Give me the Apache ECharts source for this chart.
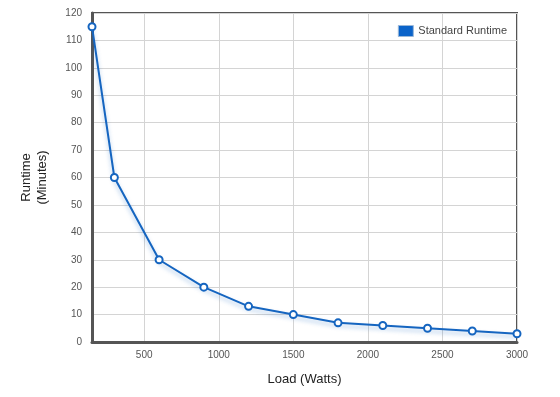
<!DOCTYPE html>
<html>
<head>
<meta charset="utf-8">
<script src="https://cdn.jsdelivr.net/npm/echarts@6/dist/echarts.min.js"></script>
<style>
  html, body { margin: 0; padding: 0; background: #fff; }
  #chart { width: 560px; height: 397px; }
</style>
</head>
<body>
<div id="chart"></div>
<script>
// load in watts, runtime in minutes
const loads = [150, 300, 600, 900, 1200, 1500, 1800, 2100, 2400, 2700, 3000];
const runtimes = [115, 60, 30, 20, 13, 10, 7, 6, 5, 4, 3];
const xTicks = [500, 1000, 1500, 2000, 2500, 3000];
const seriesName = "Standard Runtime";

const myChart = echarts.init(document.getElementById("chart"));

myChart.setOption({
  animation: false,
  textStyle: { fontFamily: "Arial, 'Liberation Sans', sans-serif" },
  grid: {
    left: 92,
    right: 43,
    top: 13,
    bottom: 55,
    show: true,
    borderColor: "#555",
    borderWidth: 2,
  },
  legend: {
    right: 48,
    top: 20,
    icon: "rect",
    itemWidth: 15,
    itemHeight: 11,
    itemGap: 6,
    textStyle: { color: "#444", fontSize: 11 },
    itemStyle: { color: "#0b63c9", borderColor: "#9bb8d8", borderWidth: 1 },
    data: [seriesName],
  },
  xAxis: {
    type: "value",
    min: 150,
    max: 3000,
    name: "Load (Watts)",
    nameLocation: "middle",
    nameGap: 31,
    nameTextStyle: { color: "#222", fontSize: 13 },
    axisLine: { show: true, lineStyle: { color: "#555", width: 3 } },
    axisTick: { show: false, customValues: xTicks },
    axisLabel: {
      customValues: xTicks,
      formatter: (v) => String(v),
      color: "#555",
      fontSize: 10,
      margin: 8,
    },
    splitLine: { show: true, lineStyle: { color: "#d4d4d4" } },
  },
  yAxis: {
    type: "value",
    min: 0,
    max: 120,
    interval: 10,
    name: "Runtime\n(Minutes)",
    nameLocation: "middle",
    nameGap: 42,
    nameTextStyle: { color: "#222", fontSize: 13, lineHeight: 16 },
    axisLine: { show: true, lineStyle: { color: "#555", width: 3 } },
    axisTick: { show: false },
    axisLabel: { color: "#555", fontSize: 10, margin: 10 },
    splitLine: { show: true, lineStyle: { color: "#d4d4d4" } },
  },
  series: [
    {
      name: seriesName,
      type: "line",
      data: loads.map((x, i) => [x, runtimes[i]]),
      symbol: "circle",
      symbolSize: 7,
      color: "#1565c0",
      lineStyle: {
        color: "#1565c0",
        width: 2,
        shadowColor: "rgba(21, 101, 192, 0.35)",
        shadowBlur: 4,
        shadowOffsetY: 3,
      },
      itemStyle: {
        color: "#fff",
        borderColor: "#1565c0",
        borderWidth: 2,
      },
      clip: false,
    },
  ],
});
</script>
</body>
</html>
